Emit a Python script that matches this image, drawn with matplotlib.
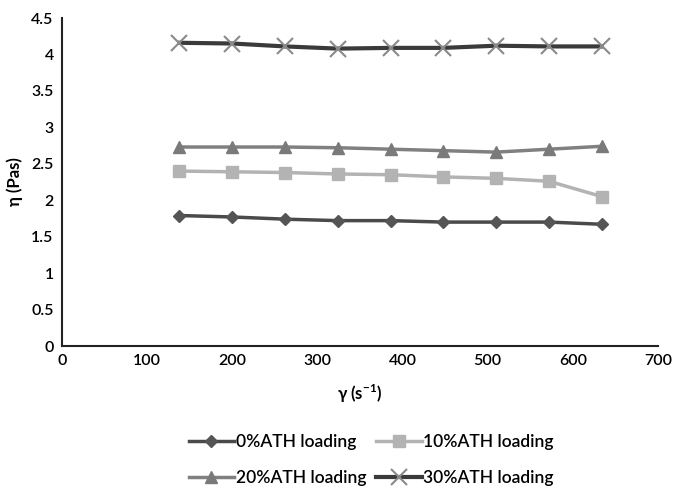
import matplotlib
matplotlib.use("Agg")
import matplotlib.pyplot as plt

shear_rate = [138, 200, 262, 324, 386, 448, 510, 572, 634]
eta_0 = [1.79, 1.77, 1.74, 1.72, 1.72, 1.70, 1.70, 1.70, 1.67]
eta_10 = [2.40, 2.39, 2.38, 2.36, 2.35, 2.32, 2.30, 2.26, 2.05]
eta_20 = [2.73, 2.73, 2.73, 2.72, 2.70, 2.68, 2.66, 2.70, 2.74]
eta_30 = [4.16, 4.15, 4.11, 4.08, 4.09, 4.09, 4.12, 4.11, 4.11]
labels = ["0%ATH loading", "10%ATH loading", "20%ATH loading", "30%ATH loading"]
x_ticks = [0, 100, 200, 300, 400, 500, 600, 700]
y_ticks = [0, 0.5, 1, 1.5, 2, 2.5, 3, 3.5, 4, 4.5]
y_ticklabels = ["0", "0.5", "1", "1.5", "2", "2.5", "3", "3.5", "4", "4.5"]

plt.rcParams['font.family'] = ['Lato', 'DejaVu Sans']

fig = plt.figure(figsize=(6.75, 4.9), dpi=100)
ax = fig.add_axes([62/675, 1 - 346/490, (658-62)/675, (346-18)/490])

h0, = ax.plot(shear_rate, eta_0, color='#4a4a4a', lw=2.5, marker='D', ms=6,
              mfc='#555555', mec='#555555', label=labels[0])
h1, = ax.plot(shear_rate, eta_10, color='#b3b3b3', lw=2.5, marker='s', ms=9,
              mfc='#b3b3b3', mec='#b3b3b3', label=labels[1])
h2, = ax.plot(shear_rate, eta_20, color='#808080', lw=2.5, marker='^', ms=9,
              mfc='#7a7a7a', mec='#7a7a7a', label=labels[2])
h3, = ax.plot(shear_rate, eta_30, color='#3a3a3a', lw=3, marker='x', ms=11,
              mew=1.5, mec='#8a8a8a', label=labels[3])

ax.set_xlim(0, 700)
ax.set_ylim(0, 4.5)
ax.set_xticks(x_ticks)
ax.set_yticks(y_ticks)
ax.set_yticklabels(y_ticklabels)
ax.tick_params(length=0, labelsize=11.5, pad=6)
for lab in ax.get_xticklabels() + ax.get_yticklabels():
    lab.set_fontweight('semibold')
for s in ['top', 'right']:
    ax.spines[s].set_visible(False)
for s in ['left', 'bottom']:
    ax.spines[s].set_linewidth(1.5)
    ax.spines[s].set_color('#222222')

ax.set_xlabel("γ (s$^{\\mathregular{-1}}$)", fontsize=12, fontweight='bold', labelpad=10)
ax.set_ylabel("η (Pas)", fontsize=12, fontweight='bold', labelpad=6)

fig.legend([h0, h2, h1, h3], [labels[0], labels[2], labels[1], labels[3]],
           loc='upper center', bbox_to_anchor=(0.55, 1 - 418/490), ncol=2,
           frameon=False, handlelength=2.6, columnspacing=0.6,
           handletextpad=0.1, labelspacing=1.2,
           prop={'weight': 'semibold', 'size': 12.5})

fig.savefig("out.png", dpi=100)
